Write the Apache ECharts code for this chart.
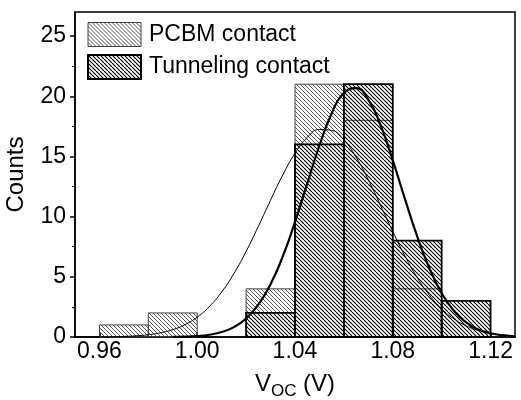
<!DOCTYPE html>
<html>
<head>
<meta charset="utf-8">
<script src="https://cdn.jsdelivr.net/npm/echarts@6/dist/echarts.min.js"></script>
<style>
  html, body { margin: 0; padding: 0; background: #fff; }
  #chart { width: 521px; height: 400px; }
</style>
</head>
<body>
<div id="chart"></div>
<script>
// Histogram bins (left edges, V) and bin width
const binStarts = [0.96, 0.98, 1.00, 1.02, 1.04, 1.06, 1.08, 1.10];
const binWidth = 0.02;
const pcbmCounts = [1, 2, 0, 4, 21, 18, 4, 0];
const tunnelCounts = [0, 0, 0, 2, 16, 21, 8, 3];

// Gaussian fit curves, sampled points (V, counts)
const pcbmFitX = [0.950, 0.955, 0.960, 0.965, 0.970, 0.975, 0.980, 0.985, 0.990, 0.995,
  1.000, 1.005, 1.010, 1.015, 1.020, 1.025, 1.030, 1.035, 1.040, 1.045, 1.050, 1.055,
  1.060, 1.065, 1.070, 1.075, 1.080, 1.085, 1.090, 1.095, 1.100, 1.105, 1.110, 1.115,
  1.120, 1.125, 1.130];
const pcbmFitY = [0.00, 0.01, 0.01, 0.02, 0.05, 0.10, 0.19, 0.35, 0.61, 1.03,
  1.65, 2.54, 3.74, 5.27, 7.11, 9.19, 11.37, 13.46, 15.26, 16.58, 17.24, 17.16,
  16.36, 14.94, 13.06, 10.93, 8.76, 6.72, 4.94, 3.48, 2.34, 1.51, 0.93, 0.55,
  0.31, 0.17, 0.09];
const tunnelFitX = [0.990, 0.995, 1.000, 1.005, 1.010, 1.015, 1.020, 1.025, 1.030, 1.035,
  1.040, 1.045, 1.050, 1.055, 1.060, 1.065, 1.070, 1.075, 1.080, 1.085, 1.090, 1.095,
  1.100, 1.105, 1.110, 1.115, 1.120, 1.125, 1.130];
const tunnelFitY = [0.01, 0.03, 0.08, 0.19, 0.41, 0.82, 1.54, 2.69, 4.39, 6.69,
  9.56, 12.75, 15.91, 18.57, 20.26, 20.68, 19.72, 17.60, 14.68, 11.45, 8.35, 5.70,
  3.63, 2.17, 1.21, 0.63, 0.31, 0.14, 0.06];

// Axis ticks and labels
const xTickValues = [0.96, 1.00, 1.04, 1.08, 1.12];
const yTickValues = [0, 5, 10, 15, 20, 25];
const yMinorTickValues = [2.5, 7.5, 12.5, 17.5, 22.5];
const seriesNames = ['PCBM contact', 'Tunneling contact'];

const FONT = '"Liberation Sans", Arial, sans-serif';

// Diagonal hatch tiles
function hatch(size, lineWidth, color) {
  const c = document.createElement('canvas');
  c.width = size; c.height = size;
  const g = c.getContext('2d');
  g.strokeStyle = color;
  g.lineWidth = lineWidth;
  g.beginPath();
  for (let k = -1; k <= 1; k++) {
    g.moveTo(k * size, 0);
    g.lineTo(k * size + size, size);
  }
  g.stroke();
  return c;
}
const lightFill = { image: hatch(4, 1, '#555555'), repeat: 'repeat' };
const darkFill = { image: hatch(4, 1.15, '#000000'), repeat: 'repeat' };

function binData(counts) {
  return binStarts.map((s, i) => [s, s + binWidth, counts[i]]);
}

function histRenderer(fill, stroke, lw) {
  return function (params, api) {
    const h = api.value(2);
    if (!h) return null;
    const p0 = api.coord([api.value(0), h]);
    const p1 = api.coord([api.value(1), 0]);
    return {
      type: 'rect',
      shape: { x: p0[0], y: p0[1], width: p1[0] - p0[0], height: p1[1] - p0[1] },
      style: { fill: fill, stroke: stroke, lineWidth: lw }
    };
  };
}

const zip = (xs, ys) => xs.map((x, i) => [x, ys[i]]);

const chart = echarts.init(document.getElementById('chart'), null, { renderer: 'canvas' });
chart.setOption({
  animation: false,
  backgroundColor: '#fff',
  grid: {
    left: 75, right: 6, top: 12, bottom: 63,
    show: true, borderColor: '#000', borderWidth: 1.5,
    outerBoundsMode: 'none'
  },
  legend: {
    orient: 'vertical',
    left: 87, top: 22, padding: 0,
    itemWidth: 53, itemHeight: 24, itemGap: 7,
    icon: 'rect',
    textStyle: { fontFamily: FONT, fontSize: 23, color: '#000', padding: [0, 0, 0, 3] },
    data: [
      { name: seriesNames[0], itemStyle: { color: lightFill, borderColor: '#444', borderWidth: 1 } },
      { name: seriesNames[1], itemStyle: { color: darkFill, borderColor: '#000', borderWidth: 2 } }
    ]
  },
  xAxis: {
    type: 'value', min: 0.95, max: 1.13,
    name: '{v|V}{sub|OC}{v| (V)}',
    nameLocation: 'middle', nameGap: 35,
    nameTextStyle: {
      rich: {
        v: { fontFamily: FONT, fontSize: 24, color: '#000', lineHeight: 28, verticalAlign: 'top' },
        sub: { fontFamily: FONT, fontSize: 17, color: '#000', lineHeight: 28, verticalAlign: 'top', padding: [11, 0, 0, 0] }
      }
    },
    axisLine: { lineStyle: { color: '#000', width: 1.5 } },
    axisTick: { inside: true, length: 5, customValues: xTickValues, lineStyle: { color: '#000', width: 1.5 } },
    axisLabel: {
      customValues: xTickValues, margin: 3,
      formatter: v => v.toFixed(2),
      fontFamily: FONT, fontSize: 23, color: '#000'
    },
    splitLine: { show: false }
  },
  yAxis: [
    {
      type: 'value', min: 0, max: 27,
      name: 'Counts', nameLocation: 'middle', nameGap: 47,
      nameTextStyle: { fontFamily: FONT, fontSize: 24, color: '#000' },
      axisLine: { show: true, lineStyle: { color: '#000', width: 1.5 } },
      axisTick: { show: true, length: 5, customValues: yTickValues, lineStyle: { color: '#000', width: 1.5 } },
      axisLabel: { customValues: yTickValues, margin: 9, fontFamily: FONT, fontSize: 23, color: '#000' },
      splitLine: { show: false }
    },
    {
      type: 'value', min: 0, max: 27, position: 'left',
      axisLine: { show: false },
      axisTick: { show: true, length: 3, customValues: yMinorTickValues, lineStyle: { color: '#000', width: 1.2 } },
      axisLabel: { show: false },
      splitLine: { show: false }
    }
  ],
  series: [
    {
      name: seriesNames[0], type: 'custom', z: 2,
      itemStyle: { color: lightFill, borderColor: '#444', borderWidth: 1 },
      renderItem: histRenderer(lightFill, '#444', 1),
      encode: { x: [0, 1], y: 2 },
      data: binData(pcbmCounts)
    },
    {
      name: seriesNames[1], type: 'custom', z: 3,
      itemStyle: { color: darkFill, borderColor: '#000', borderWidth: 2 },
      renderItem: histRenderer(darkFill, '#000', 1.8),
      encode: { x: [0, 1], y: 2 },
      data: binData(tunnelCounts)
    },
    {
      type: 'line', z: 4, smooth: true, symbol: 'none', silent: true,
      lineStyle: { color: '#000', width: 1 },
      data: zip(pcbmFitX, pcbmFitY)
    },
    {
      type: 'line', z: 5, smooth: true, symbol: 'none', silent: true,
      lineStyle: { color: '#000', width: 2.2 },
      data: zip(tunnelFitX, tunnelFitY)
    }
  ]
});
</script>
</body>
</html>
